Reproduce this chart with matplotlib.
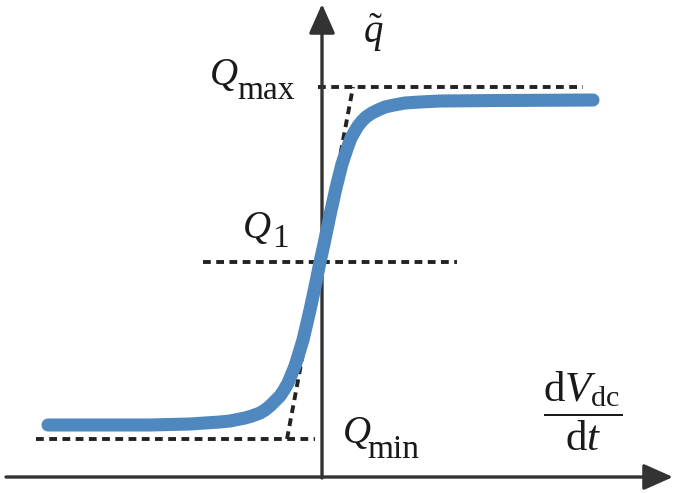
import numpy as np
import matplotlib
matplotlib.use('Agg')
import matplotlib.pyplot as plt

plt.rcParams['mathtext.fontset'] = 'custom'
plt.rcParams['mathtext.rm'] = 'Liberation Serif'
plt.rcParams['mathtext.it'] = 'Liberation Serif:italic'

# sigmoid curve (x = dVdc/dt, y = q)
curve_x = [-2.74, -1.72, -1.32, -1.02, -0.92, -0.77, -0.70, -0.62, -0.57, -0.52, -0.47,
           -0.42, -0.38, -0.34, -0.27, -0.19, -0.12, -0.06, -0.02, 0.02, 0.08, 0.14,
           0.20, 0.23, 0.26, 0.29, 0.33, 0.36, 0.40, 0.44, 0.50, 0.56, 0.63, 0.72,
           0.83, 0.98, 1.18, 1.78, 2.71]
curve_y = [0.52, 0.52, 0.53, 0.55, 0.56, 0.59, 0.61, 0.64, 0.67, 0.71, 0.76,
           0.81, 0.87, 0.94, 1.11, 1.37, 1.67, 1.95, 2.15, 2.33, 2.62, 2.89,
           3.13, 3.22, 3.31, 3.39, 3.46, 3.51, 3.56, 3.60, 3.64, 3.67, 3.70, 3.72,
           3.74, 3.75, 3.76, 3.765, 3.77]

# reference levels
q_max = 3.90
q_1 = 2.15
q_min = 0.38
qmax_span = [-0.04, 2.61]
q1_span = [-1.19, 1.35]
qmin_span = [-2.86, -0.07]
tangent_x = [-0.35, 0.31]
tangent_y = [q_min, q_max]

axis_col = '#333333'
txt_col = '#1a1a1a'
blue = '#4f87bf'

fig = plt.figure(figsize=(6.78, 4.93), dpi=100)
ax = fig.add_axes([0, 0, 1, 1])
ax.set_xlim(-3.22, 3.56)
ax.set_ylim(-0.16, 4.77)
ax.axis('off')

# axes with arrows
arr = dict(arrowstyle='-|>,head_length=0.9,head_width=0.4', mutation_scale=20,
           lw=2.4, color=axis_col, shrinkA=0, shrinkB=0)
ax.annotate('', xy=(3.51, 0), xytext=(-3.16, 0), arrowprops=arr)
ax.annotate('', xy=(0, 4.73), xytext=(0, -0.01), arrowprops=arr)

dash = dict(color='#222222', lw=2.8, dashes=(2.0, 1.4), solid_capstyle='butt')
ax.plot(qmax_span, [q_max, q_max], **dash)
ax.plot(q1_span, [q_1, q_1], **dash)
ax.plot(qmin_span, [q_min, q_min], **dash)
ax.plot(tangent_x, tangent_y, **dash)

ax.plot(curve_x, curve_y, color=blue, lw=9.4, solid_capstyle='round',
        solid_joinstyle='round', zorder=3)

# labels
serif = 'Liberation Serif'
ax.text(-1.12, 3.92, 'Q', family=serif, style='italic', fontsize=28, color=txt_col, va='baseline')
ax.text(-0.85, 3.78, 'max', family=serif, fontsize=24, color=txt_col, va='baseline')
ax.text(-0.79, 2.39, 'Q', family=serif, style='italic', fontsize=28, color=txt_col, va='baseline')
ax.text(-0.50, 2.30, '1', family=serif, fontsize=24, color=txt_col, va='baseline')
ax.text(0.21, 0.34, 'Q', family=serif, style='italic', fontsize=28, color=txt_col, va='baseline')
ax.text(0.45, 0.19, 'min', family=serif, fontsize=24, color=txt_col, va='baseline')
ax.text(0.51, 4.34, r'$\tilde{q}$', fontsize=28, color=txt_col, ha='center', va='baseline')
ax.text(2.61, 0.66, r'$\dfrac{\mathrm{d}V_{\mathrm{dc}}}{\mathrm{d}t}$', fontsize=31,
        color=txt_col, ha='center', va='center')

fig.savefig('out.png', dpi=100)
